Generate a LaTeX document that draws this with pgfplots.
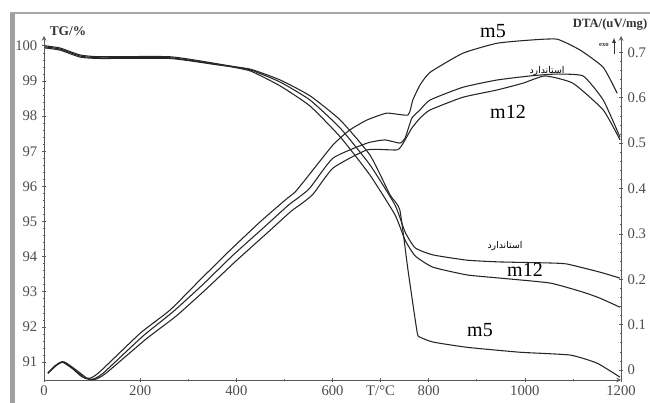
\documentclass[border=0pt]{standalone}
\usepackage{pgfplots}
\pgfplotsset{compat=1.18}
\usepackage{fontspec}
\setmainfont{Liberation Serif}
\newfontfamily\arabicfont[Script=Arabic]{DejaVu Sans}
\TeXXeTstate=1
\begin{document}
\begin{tikzpicture}
\useasboundingbox (0,0) rectangle (487.5pt,302.25pt);
% frame
\fill[gray!75] (7.5pt,0) rectangle (11pt,293.25pt);
\fill[gray!70] (7.5pt,291.75pt) rectangle (487.5pt,293.25pt);
\pgfplotsset{every axis/.append style={
  scale only axis, width=432.75pt, height=258pt,
  at={(33pt,17.25pt)}, anchor=south west,
  xmin=0, xmax=1200,
  axis line style={-, gray!70!black, line width=0.6pt},
  tick style={gray!70!black, line width=0.5pt},
  tick align=outside,
  major tick length=3pt, minor tick length=2pt,
  tick label style={font=\fontsize{11}{12}\selectfont, text=gray!60!black},
  /pgf/number format/assume math mode=true,
  clip=false,
}}
\begin{axis}[
  axis x line=bottom, axis y line=left,
  ymin=90.49, ymax=100.28,
  xtick={0,200,400,600,700,800,1000,1200},
  xticklabels={0,200,400,600,T/°C,800,1000,1200},
  minor xtick={100,300,500,900,1100},
  ytick={91,92,93,94,95,96,97,98,99,100},
  minor y tick num=4,
  xticklabel style={yshift=1pt},
]
\addplot[black!85, line width=0.8pt, smooth, tension=0.3] coordinates {
(2,100)(33,99.94)(75,99.74)(116,99.69)(262,99.69)(360,99.49)(428,99.32)(491,98.97)(553,98.46)(616,97.66)(678,96.61)(730,95.47)(751,94.70)(772,94.25)(809,94.05)(880,93.90)(948,93.85)(1052,93.82)(1088,93.79)(1156,93.56)(1198,93.39)};
\addplot[black!85, line width=0.8pt, smooth, tension=0.3] coordinates {
(2,99.97)(33,99.91)(75,99.71)(116,99.66)(262,99.66)(360,99.47)(428,99.29)(491,98.86)(553,98.29)(616,97.41)(678,96.32)(730,95.19)(751,94.47)(772,94.02)(809,93.70)(880,93.48)(948,93.39)(1052,93.25)(1121,92.99)(1156,92.82)(1198,92.56)};
\addplot[black!85, line width=0.8pt, smooth, tension=0.3] coordinates {
(2,99.94)(33,99.88)(75,99.68)(116,99.64)(262,99.64)(360,99.46)(428,99.34)(491,99.03)(553,98.58)(616,97.89)(678,96.89)(720,95.75)(740,95.33)(757,93.62)(776,91.85)(782,91.71)(809,91.57)(880,91.42)(990,91.28)(1094,91.20)(1150,90.97)(1198,90.57)};
\end{axis}
\begin{axis}[
  axis x line=none, axis y line=right,
  ymin=-0.022, ymax=0.736,
  ytick={0,0.1,0.2,0.3,0.4,0.5,0.6,0.7},
  minor y tick num=4,
  yticklabel style={/pgf/number format/fixed, /pgf/number format/precision=1},
]
\addplot[black!85, line width=0.8pt, smooth, tension=0.3] coordinates {
(8,-0.007)(23,0.009)(37,0.018)(58,0.004)(79,-0.015)(96,-0.018)(116,-0.004)(200,0.081)(262,0.132)(324,0.198)(387,0.264)(449,0.326)(501,0.374)(522,0.392)(543,0.419)(601,0.496)(636,0.529)(672,0.551)(713,0.566)(757,0.562)(767,0.595)(782,0.628)(803,0.656)(871,0.698)(942,0.720)(1011,0.727)(1067,0.729)(1115,0.705)(1163,0.667)(1192,0.610)};
\addplot[black!85, line width=0.8pt, smooth, tension=0.3] coordinates {
(8,-0.007)(25,0.011)(40,0.018)(62,0.002)(85,-0.018)(102,-0.020)(123,-0.007)(206,0.075)(268,0.128)(331,0.189)(393,0.253)(456,0.313)(508,0.363)(528,0.379)(553,0.401)(601,0.467)(672,0.500)(709,0.507)(740,0.500)(751,0.511)(765,0.555)(782,0.573)(803,0.595)(871,0.623)(942,0.639)(1011,0.648)(1063,0.652)(1121,0.648)(1163,0.595)(1198,0.513)};
\addplot[black!85, line width=0.8pt, smooth, tension=0.3] coordinates {
(8,-0.007)(27,0.011)(42,0.018)(67,0.0)(92,-0.020)(108,-0.020)(129,-0.007)(212,0.068)(275,0.119)(337,0.178)(399,0.240)(462,0.300)(514,0.350)(535,0.366)(560,0.388)(601,0.445)(672,0.485)(734,0.485)(747,0.500)(765,0.533)(782,0.555)(803,0.573)(871,0.601)(942,0.617)(996,0.632)(1042,0.648)(1100,0.632)(1163,0.573)(1198,0.507)};
\end{axis}
% labels (pixel positions * 0.75pt, y from bottom)
\node[font=\bfseries\fontsize{10}{11}\selectfont, text=gray!40!black] at (51pt,279pt) {TG/\%};
\node[font=\bfseries\fontsize{9.5}{10}\selectfont, text=gray!40!black, anchor=east] at (489pt,283.5pt) {DTA/(uV/mg)};
\node[font=\bfseries\fontsize{5}{6}\selectfont, text=gray!40!black] at (453pt,268.5pt) {exo};
\draw[-latex, gray!40!black, line width=0.4pt] (460.5pt,262pt) -- (460.5pt,274pt);
\node[font=\fontsize{15}{16}\selectfont] at (369.75pt,279pt) {m5};
\node[font=\fontsize{15}{16}\selectfont] at (381pt,218.25pt) {m12};
\node[font=\fontsize{15}{16}\selectfont] at (393.75pt,99.75pt) {m12};
\node[font=\fontsize{15}{16}\selectfont] at (360pt,54.75pt) {m5};
\node[font=\arabicfont\fontsize{7}{8}\selectfont] at (410.25pt,249pt) {\beginR استاندارد\endR};
\node[font=\arabicfont\fontsize{7}{8}\selectfont] at (378.75pt,117.75pt) {\beginR استاندارد\endR};
\end{tikzpicture}
\end{document}
